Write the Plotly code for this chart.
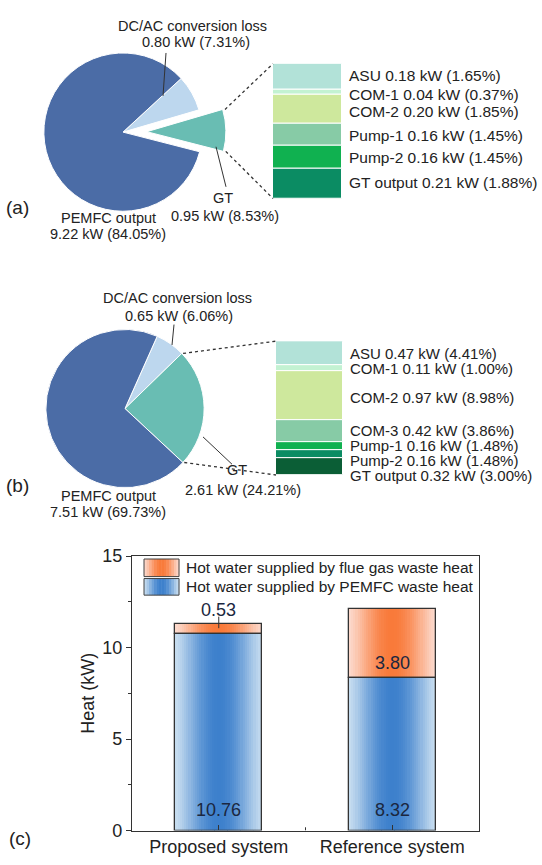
import math
import plotly.graph_objects as go

W, H = 542, 865

# ---------------- data ----------------
pie_labels = ["DC/AC conversion loss", "GT", "PEMFC output"]
pie_a_kw = [0.80, 0.95, 9.22]
pie_a_pct = [7.31, 8.53, 84.05]
pie_b_kw = [0.65, 2.61, 7.51]
pie_b_pct = [6.06, 24.21, 69.73]

gt_a_items = ["ASU", "COM-1", "COM-2", "Pump-1", "Pump-2", "GT output"]
gt_a_kw = [0.18, 0.04, 0.20, 0.16, 0.16, 0.21]
gt_a_pct = [1.65, 0.37, 1.85, 1.45, 1.45, 1.88]

gt_b_items = ["ASU", "COM-1", "COM-2", "COM-3", "Pump-1", "Pump-2", "GT output"]
gt_b_kw = [0.47, 0.11, 0.97, 0.42, 0.16, 0.16, 0.32]
gt_b_pct = [4.41, 1.00, 8.98, 3.86, 1.48, 1.48, 3.00]

systems = ["Proposed system", "Reference system"]
heat_pemfc = [10.76, 8.32]
heat_flue = [0.53, 3.80]
heat_ticks = [0, 5, 10, 15]
legend_names = ["Hot water supplied by flue gas waste heat",
                "Hot water supplied by PEMFC waste heat"]

# ---------------- styling ----------------
FONT = "Liberation Sans, Arial, sans-serif"
TXT = "#222222"
PIE_COLORS = ["#bdd7ee", "#69bdb3", "#4b6ca6"]
GT_COLORS_A = ["#b2e2d8", "#c3f2d2", "#cee89d", "#87cba6", "#10b150", "#0b8c63"]
GT_COLORS_B = ["#b2e2d8", "#c3f2d2", "#cee89d", "#87cba6", "#10b150", "#0b8c63", "#0b5e36"]
BLUE_EDGE, BLUE_MID = (199, 221, 240), (61, 128, 204)
ORNG_EDGE, ORNG_MID = (252, 217, 204), (249, 122, 58)
OUTLINE = "#333333"


def px(x):
    return x / W


def py(y):
    return 1 - y / H


def mix(c1, c2, t):
    return "rgb(%d,%d,%d)" % tuple(round(a + (b - a) * t) for a, b in zip(c1, c2))


fig = go.Figure()
shapes, annotations = [], []

# ---------------- pies ----------------
PULL_A = 0.3
pie_specs = [
    dict(vals=pie_a_pct, center=(123, 125), r=81, rot=47.3, pull=[0, PULL_A, 0]),
    dict(vals=pie_b_pct, center=(125, 408), r=81, rot=24.0, pull=[0, 0, 0]),
]
for spec in pie_specs:
    cx, cy = spec["center"]
    half = spec["r"] * (1 + max(spec["pull"]))
    fig.add_trace(go.Pie(
        values=spec["vals"], labels=pie_labels, sort=False, direction="clockwise",
        rotation=spec["rot"], pull=spec["pull"], textinfo="none", showlegend=False,
        marker=dict(colors=PIE_COLORS, line=dict(color="white", width=1)),
        domain=dict(x=[px(cx - half), px(cx + half)], y=[py(cy + half), py(cy - half)]),
    ))


def gt_corners(spec):
    """Outer corners of the GT slice (screen px), following the pie geometry."""
    cx, cy = spec["center"]
    r = spec["r"]
    tot = sum(spec["vals"])
    t0 = spec["rot"] + 360 * spec["vals"][0] / tot
    t1 = t0 + 360 * spec["vals"][1] / tot
    tm = math.radians((t0 + t1) / 2)
    p = spec["pull"][1] * r
    ox, oy = cx + p * math.sin(tm), cy - p * math.cos(tm)
    c0 = (ox + r * math.sin(math.radians(t0)), oy - r * math.cos(math.radians(t0)))
    c1 = (ox + r * math.sin(math.radians(t1)), oy - r * math.cos(math.radians(t1)))
    return c0, c1


# ---------------- GT breakdown columns ----------------
col_boxes = [
    dict(items=gt_a_items, kw=gt_a_kw, pct=gt_a_pct, colors=GT_COLORS_A, fs=15.5,
         x=(273, 342), y=(55, 193), ax="2", label_y=[67, 86, 104, 128, 151, 177]),
    dict(items=gt_b_items, kw=gt_b_kw, pct=gt_b_pct, colors=GT_COLORS_B, fs=15,
         x=(276, 343), y=(339, 476), ax="3", label_y=[352, 367, 397, 430, 446, 461, 477]),
]
for box in col_boxes:
    base = sum(box["kw"])
    for name, v, col in zip(box["items"], box["kw"], box["colors"]):
        base -= v
        fig.add_trace(go.Bar(
            x=[0], y=[v], base=[base], width=[1], marker=dict(color=col, line=dict(color="white", width=1)),
            xaxis="x" + box["ax"], yaxis="y" + box["ax"], showlegend=False, hoverinfo="skip", name=name,
        ))
    for name, v, pc, ly in zip(box["items"], box["kw"], box["pct"], box["label_y"]):
        annotations.append(dict(
            text=f"{name} {v:.2f} kW ({pc:.2f}%)", x=px(box["x"][1] + 5), y=py(ly),
            xref="paper", yref="paper", xanchor="left", yanchor="middle", showarrow=False,
            font=dict(size=box["fs"], color=TXT, family=FONT),
        ))

# dotted connectors from GT slice to its breakdown column
for spec, box in zip(pie_specs, col_boxes):
    c_top, c_bot = gt_corners(spec)
    for (sx, sy), ty in ((c_top, box["y"][0]), (c_bot, box["y"][1])):
        shapes.append(dict(type="line", xref="paper", yref="paper",
                           x0=px(sx), y0=py(sy), x1=px(box["x"][0]), y1=py(ty),
                           line=dict(color="#333333", width=1.3, dash="dot")))

# pie labels and leader lines
pie_text = [
    # (text, x, y)
    ("DC/AC conversion loss", 192, 16), (f"{pie_a_kw[0]:.2f} kW ({pie_a_pct[0]:.2f}%)", 196, 33),
    ("GT", 223, 192), (f"{pie_a_kw[1]:.2f} kW ({pie_a_pct[1]:.2f}%)", 225, 211),
    ("PEMFC output", 108, 213), (f"{pie_a_kw[2]:.2f} kW ({pie_a_pct[2]:.2f}%)", 108, 229),
    ("DC/AC conversion loss", 177, 295), (f"{pie_b_kw[0]:.2f} kW ({pie_b_pct[0]:.2f}%)", 179, 313),
    ("GT", 237, 471), (f"{pie_b_kw[1]:.2f} kW ({pie_b_pct[1]:.2f}%)", 243, 491),
    ("PEMFC output", 108, 497), (f"{pie_b_kw[2]:.2f} kW ({pie_b_pct[2]:.2f}%)", 108, 514),
]
for t, x, y in pie_text:
    annotations.append(dict(text=t, x=px(x), y=py(y), xref="paper", yref="paper",
                            xanchor="center", yanchor="middle", showarrow=False,
                            font=dict(size=14.5, color=TXT, family=FONT)))

leaders = [((166, 44), (163, 88)), ((216, 140), (226, 181)),
           ((174, 322), (172, 343)), ((203, 437), (232, 465))]
for (x0, y0), (x1, y1) in leaders:
    shapes.append(dict(type="line", xref="paper", yref="paper", x0=px(x0), y0=py(y0),
                       x1=px(x1), y1=py(y1), line=dict(color="#333333", width=1)))

for t, x, y in (("(a)", 17, 202), ("(b)", 17, 487), ("(c)", 20, 848)):
    annotations.append(dict(text=t, x=px(x), y=py(y), xref="paper", yref="paper",
                            xanchor="center", yanchor="middle", showarrow=False,
                            font=dict(size=19, color=TXT, family=FONT)))

# ---------------- heat chart (c) ----------------
N_STRIPS = 40
BAR_W = 0.5
sw = BAR_W / N_STRIPS
for k in range(N_STRIPS):
    u = (k + 0.5) / N_STRIPS
    t = math.sin(math.pi * u) ** 1.3
    off = -BAR_W / 2 + k * sw
    fig.add_trace(go.Bar(x=systems, y=heat_pemfc, base=[0, 0], offset=off, width=sw * 1.05,
                         marker=dict(color=mix(BLUE_EDGE, BLUE_MID, t), line=dict(width=0)),
                         showlegend=False, hoverinfo="skip", xaxis="x", yaxis="y"))
    fig.add_trace(go.Bar(x=systems, y=heat_flue, base=heat_pemfc, offset=off, width=sw * 1.05,
                         marker=dict(color=mix(ORNG_EDGE, ORNG_MID, t), line=dict(width=0)),
                         showlegend=False, hoverinfo="skip", xaxis="x", yaxis="y"))
# outlines for both stacked segments
for ys, bs in ((heat_pemfc, [0, 0]), (heat_flue, heat_pemfc)):
    fig.add_trace(go.Bar(x=systems, y=ys, base=bs, width=BAR_W,
                         marker=dict(color="rgba(0,0,0,0)", line=dict(color=OUTLINE, width=1.3)),
                         showlegend=False, hoverinfo="skip", xaxis="x", yaxis="y"))

# value labels
VAL_FONT = dict(size=18, color="#1b2740", family=FONT)
for i, s in enumerate(systems):
    annotations.append(dict(text=f"{heat_pemfc[i]:.2f}", x=s, y=1.1, xref="x", yref="y",
                            showarrow=False, yanchor="middle", font=VAL_FONT))
top0 = heat_pemfc[0] + heat_flue[0]
annotations.append(dict(text=f"{heat_flue[0]:.2f}", x=systems[0], y=top0 + 0.78, xref="x", yref="y",
                        showarrow=False, yanchor="middle", font=VAL_FONT))
shapes.append(dict(type="line", xref="x", yref="y", x0=0, x1=0, y0=heat_pemfc[0] + 0.3, y1=top0 + 0.4,
                   line=dict(color="#333333", width=1)))
annotations.append(dict(text=f"{heat_flue[1]:.2f}", x=systems[1], y=heat_pemfc[1] + 0.83, xref="x",
                        yref="y", showarrow=False, yanchor="middle", font=VAL_FONT))
# minor x tick between the two categories
shapes.append(dict(type="line", xref="x", yref="y", x0=0.5, x1=0.5, y0=0, y1=0.18,
                   line=dict(color=OUTLINE, width=1)))

# hand-built legend with gradient swatches
leg_rows = [(legend_names[0], ORNG_EDGE, ORNG_MID, 562, 580), (legend_names[1], BLUE_EDGE, BLUE_MID, 582, 599)]
SW_X0, SW_X1, NS = 144, 179, 14
for name, ce, cm, y0, y1 in leg_rows:
    step = (SW_X1 - SW_X0) / NS
    for k in range(NS):
        u = (k + 0.5) / NS
        t = math.sin(math.pi * u) ** 1.3
        shapes.append(dict(type="rect", xref="paper", yref="paper",
                           x0=px(SW_X0 + k * step), x1=px(SW_X0 + (k + 1) * step + 0.4),
                           y0=py(y1), y1=py(y0), fillcolor=mix(ce, cm, t), line=dict(width=0)))
    shapes.append(dict(type="rect", xref="paper", yref="paper", x0=px(SW_X0), x1=px(SW_X1),
                       y0=py(y1), y1=py(y0), line=dict(color="#444444", width=1)))
    annotations.append(dict(text=name, x=px(SW_X1 + 5), y=py((y0 + y1) / 2), xref="paper", yref="paper",
                            xanchor="left", yanchor="middle", showarrow=False,
                            font=dict(size=15.5, color=TXT, family=FONT)))

axis_common = dict(showline=True, mirror=True, linecolor=OUTLINE, linewidth=1.3, showgrid=False,
                   zeroline=False, tickcolor=OUTLINE, tickfont=dict(size=18, color=TXT, family=FONT),
                   layer="above traces")

fig.update_layout(
    width=W, height=H, margin=dict(l=0, r=0, t=0, b=0), autosize=False,
    paper_bgcolor="white", plot_bgcolor="white", barmode="overlay", bargap=0,
    font=dict(family=FONT, color=TXT),
    xaxis=dict(domain=[px(132), px(479)], anchor="y", type="category", range=[-0.5, 1.5],
               ticks="inside", ticklen=5, **axis_common),
    yaxis=dict(domain=[py(840), py(559)], anchor="x", range=[0, 15], tickvals=heat_ticks,
               ticks="outside", ticklen=5, minor=dict(dtick=2.5, ticks="outside", ticklen=3, tickcolor=OUTLINE),
               title=dict(text="Heat (kW)", font=dict(size=18, color=TXT, family=FONT), standoff=2),
               **axis_common),
    xaxis2=dict(domain=[px(273), px(342)], anchor="y2", range=[-0.5, 0.5], visible=False),
    yaxis2=dict(domain=[py(193), py(55)], anchor="x2", range=[0, sum(gt_a_kw)], visible=False),
    xaxis3=dict(domain=[px(276), px(343)], anchor="y3", range=[-0.5, 0.5], visible=False),
    yaxis3=dict(domain=[py(476), py(339)], anchor="x3", range=[0, sum(gt_b_kw)], visible=False),
    shapes=shapes, annotations=annotations,
)

fig.write_html("out.html")
